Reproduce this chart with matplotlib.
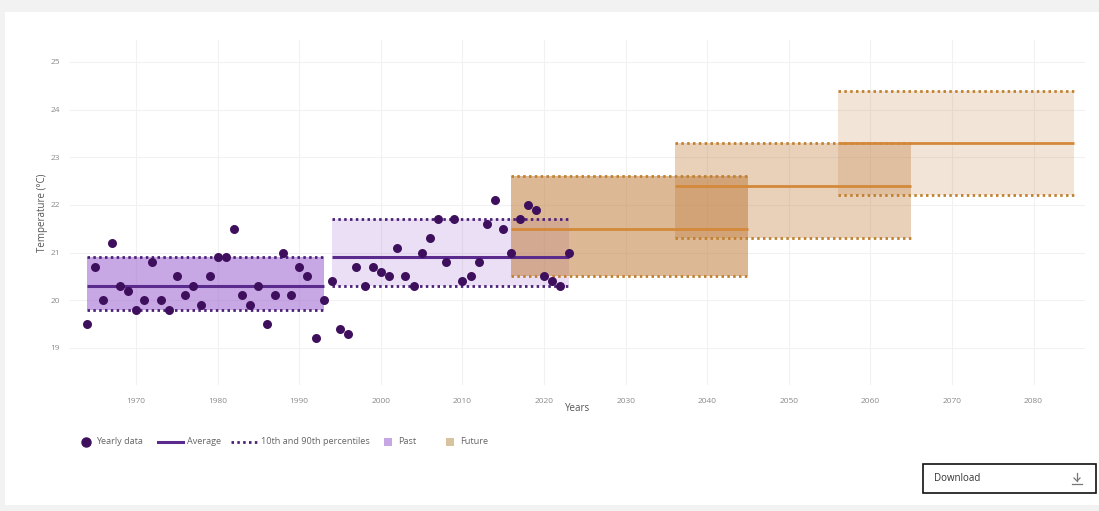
import matplotlib
matplotlib.use("Agg")
import matplotlib.pyplot as plt
from matplotlib.patches import Rectangle
from matplotlib.lines import Line2D

plt.rcParams['font.family'] = ['Open Sans', 'DejaVu Sans']

# ---- data ----
years = list(range(1964, 2024))
temps = [19.5, 20.7, 20.0, 21.2, 20.3, 20.2, 19.8, 20.0, 20.8, 20.0,
         19.8, 20.5, 20.1, 20.3, 19.9, 20.5, 20.9, 20.9, 21.5, 20.1,
         19.9, 20.3, 19.5, 20.1, 21.0, 20.1, 20.7, 20.5, 19.2, 20.0,
         20.4, 19.4, 19.3, 20.7, 20.3, 20.7, 20.6, 20.5, 21.1, 20.5,
         20.3, 21.0, 21.3, 21.7, 20.8, 21.7, 20.4, 20.5, 20.8, 21.6,
         22.1, 21.5, 21.0, 21.7, 22.0, 21.9, 20.5, 20.4, 20.3, 21.0]

past_start = [1964, 1994]
past_end = [1993, 2023]
past_avg = [20.3, 20.9]
past_p10 = [19.8, 20.3]
past_p90 = [20.9, 21.7]

future_start = [2016, 2036, 2056]
future_end = [2045, 2065, 2085]
future_avg = [21.5, 22.4, 23.3]
future_p10 = [20.5, 21.3, 22.2]
future_p90 = [22.6, 23.3, 24.4]

xticks = [1970, 1980, 1990, 2000, 2010, 2020, 2030, 2040, 2050, 2060, 2070, 2080]
yticks = [19, 20, 21, 22, 23, 24, 25]

# ---- styles ----
W, H = 1099, 511
fig = plt.figure(figsize=(W / 100, H / 100), dpi=100, facecolor='#f2f2f2')
bg = Rectangle((5 / W, 1 - 505 / H), (W - 5) / W, (505 - 12) / H,
               transform=fig.transFigure, facecolor='white', edgecolor='none', zorder=-10)
fig.add_artist(bg)

ax = fig.add_axes([70 / W, 1 - 385 / H, (1085 - 70) / W, (385 - 40) / H])
ax.set_facecolor('none')

past_fill = '#9b5fd0'
past_alpha = [0.55, 0.2]
past_line = '#5a2a8c'
past_dot = '#4b2077'
fut_fill = '#c07f3f'
fut_alpha = [0.55, 0.36, 0.2]
fut_line = '#d4893a'
fut_dot = '#c0802f'
point_col = '#3e0f5c'
dot_style = (0, (0.9, 1.2))

for s, e, a, lo, hi, al in zip(past_start, past_end, past_avg, past_p10, past_p90, past_alpha):
    ax.fill_between([s, e], [lo, lo], [hi, hi], color=past_fill, alpha=al, lw=0, zorder=1)

for s, e, a, lo, hi, al in zip(future_start, future_end, future_avg, future_p10, future_p90, fut_alpha):
    ax.fill_between([s, e], [lo, lo], [hi, hi], color=fut_fill, alpha=al, lw=0, zorder=2)
    ax.plot([s, e], [a, a], color=fut_line, lw=2.0, zorder=3, solid_capstyle='butt')
    ax.plot([s, e], [lo, lo], color=fut_dot, lw=2.0, ls=dot_style, zorder=3)
    ax.plot([s, e], [hi, hi], color=fut_dot, lw=2.0, ls=dot_style, zorder=3)

for s, e, a, lo, hi in zip(past_start, past_end, past_avg, past_p10, past_p90):
    ax.plot([s, e], [a, a], color=past_line, lw=2.2, zorder=4, solid_capstyle='butt')
    ax.plot([s, e], [lo, lo], color=past_dot, lw=2.0, ls=dot_style, zorder=4)
    ax.plot([s, e], [hi, hi], color=past_dot, lw=2.0, ls=dot_style, zorder=4)

ax.scatter(years, temps, s=42, color=point_col, zorder=5, linewidths=0)

ax.set_xlim(1961.9, 2086.3)
ax.set_ylim(18.22, 25.46)
ax.set_xticks(xticks)
ax.set_yticks(yticks)
ax.grid(True, color='#f1f1f1', lw=0.8)
ax.set_axisbelow(True)
for sp in ax.spines.values():
    sp.set_visible(False)
ax.tick_params(length=0, labelsize=6.0, colors='#8a8a8a')
ax.tick_params(axis='x', pad=9)
ax.tick_params(axis='y', pad=7)
ax.set_xlabel('Years', fontsize=7.0, color='#555555', labelpad=-1)
ax.set_ylabel('Temperature (°C)', fontsize=7.0, color='#555555', labelpad=2)

# ---- legend (manual) ----
ly = 1 - 442 / H
def fx(px):
    return px / W
fs = 6.6
fig.add_artist(Line2D([fx(86)], [ly], marker='o', ms=6.5, color=point_col, lw=0,
                      transform=fig.transFigure))
fig.text(fx(96), ly, 'Yearly data', fontsize=fs, color='#666666', va='center')
fig.add_artist(Line2D([fx(158), fx(183)], [ly, ly], color=past_line, lw=2.2,
                      transform=fig.transFigure))
fig.text(fx(187), ly, 'Average', fontsize=fs, color='#666666', va='center')
fig.add_artist(Line2D([fx(231), fx(257)], [ly, ly], color=past_dot, lw=2.0, ls=dot_style,
                      transform=fig.transFigure))
fig.text(fx(261), ly, '10th and 90th percentiles', fontsize=fs, color='#666666', va='center')
fig.add_artist(Rectangle((fx(384), ly - 4 / H), 8 / W, 8 / H, transform=fig.transFigure,
                         facecolor='#c7a6e4', edgecolor='none'))
fig.text(fx(398), ly, 'Past', fontsize=fs, color='#666666', va='center')
fig.add_artist(Rectangle((fx(446), ly - 4 / H), 8 / W, 8 / H, transform=fig.transFigure,
                         facecolor='#d8c39f', edgecolor='none'))
fig.text(fx(460), ly, 'Future', fontsize=fs, color='#666666', va='center')

# ---- download button ----
fig.add_artist(Rectangle((fx(923), 1 - 493 / H), 173 / W, 29 / H, transform=fig.transFigure,
                         facecolor='white', edgecolor='#111111', lw=1.2))
by = 1 - 478.5 / H
fig.text(fx(934), by, 'Download', fontsize=7.0, color='#333333', va='center')
fig.add_artist(Line2D([fx(1077), fx(1077)], [1 - 473 / H, 1 - 481 / H], color='#777777', lw=0.9,
                      transform=fig.transFigure))
fig.add_artist(Line2D([fx(1074), fx(1077), fx(1080)], [1 - 478 / H, 1 - 481 / H, 1 - 478 / H],
                      color='#777777', lw=0.9, transform=fig.transFigure))
fig.add_artist(Line2D([fx(1072), fx(1082)], [1 - 484 / H, 1 - 484 / H], color='#777777', lw=0.9,
                      transform=fig.transFigure))

fig.savefig('out.png', dpi=100, facecolor=fig.get_facecolor())
